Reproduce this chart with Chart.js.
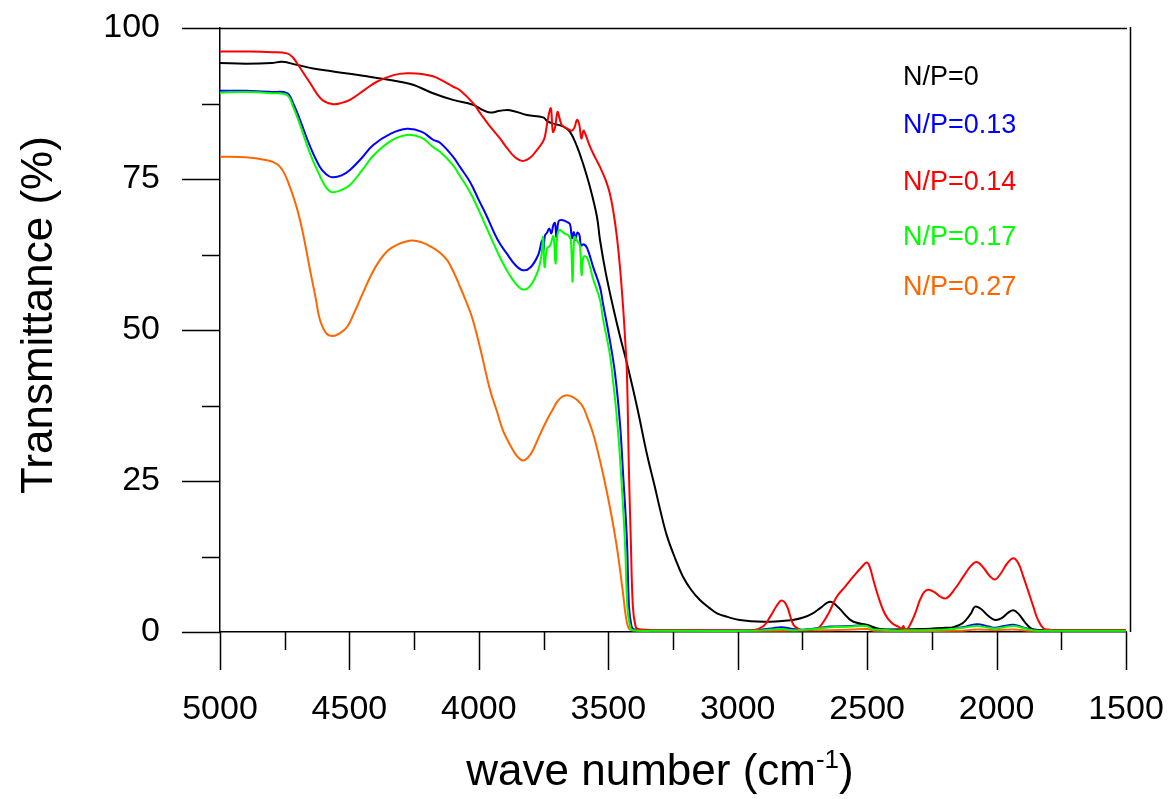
<!DOCTYPE html>
<html><head><meta charset="utf-8">
<script src="https://cdn.jsdelivr.net/npm/chart.js@4.4.1/dist/chart.umd.min.js"></script>
<style>html,body{margin:0;padding:0;background:#fff;}canvas{display:block;}</style>
</head><body>
<canvas id="c" width="1171" height="799"></canvas>
<script>
const seriesLabels = ['N/P=0', 'N/P=0.13', 'N/P=0.14', 'N/P=0.17', 'N/P=0.27'];
const seriesColors = ['#000000', '#0000ff', '#ff0000', '#00ff00', '#ff6600'];
const xTicks = [5000, 4500, 4000, 3500, 3000, 2500, 2000, 1500];
const yTicks = [0, 25, 50, 75, 100];

// N/P=0 (black)
const wnNP0 = [5000,4900,4800,4760,4703,4640,4563,4432,4305,4254,
  4177,4100,4023,3984,3957,3918,3880,3814,3752,3733,
  3706,3675,3648,3621,3598,3571,3544,3532,3510,3482,
  3455,3428,3389,3351,3320,3301,3274,3240,3212,3180,
  3146,3110,3080,3040,2992,2901,2840,2787,2747,2710,
  2680,2643,2610,2580,2553,2502,2450,2380,2296,2200,
  2167,2130,2100,2083,2060,2030,2006,1980,1955,1935,
  1915,1890,1864,1830,1800,1500];
const tNP0 = [94.2,94.1,94.2,94.4,93.9,93.3,92.8,92.0,91.1,90.6,
  89.2,88.1,87.3,86.4,86.0,86.3,86.4,85.6,85.2,84.5,
  84.1,83.7,82.8,80.4,77.6,73.7,68.8,64.9,59.5,53.9,
  49.0,44.5,37.3,29.5,24.0,20.5,16.0,12.0,9.2,7.0,
  5.3,4.0,3.1,2.5,2.0,1.7,1.8,2.0,2.4,3.1,
  4.0,5.0,4.0,2.6,1.7,1.2,0.5,0.4,0.5,0.7,
  0.8,1.5,3.0,4.2,3.8,2.6,2.0,2.3,3.2,3.6,
  3.0,1.6,0.5,0.3,0.3,0.3];

// N/P=0.13 (blue)
const wnNP013 = [5000,4900,4800,4741,4718,4691,4652,4614,4590,4567,
  4530,4498,4450,4409,4340,4278,4220,4177,4150,4100,
  4073,4034,4000,3969,3927,3891,3860,3830,3800,3770,
  3756,3750,3745,3737,3728,3720,3712,3706,3700,3692,
  3680,3660,3648,3640,3633,3627,3620,3612,3605,3595,
  3582,3559,3532,3521,3494,3474,3455,3443,3428,3420,
  3410,3400,3300,2950,2870,2830,2790,2740,2680,2640,
  2560,2502,2475,2400,2300,2200,2130,2077,2030,2006,
  1970,1935,1900,1860,1800,1500];
const tNP013 = [89.6,89.6,89.4,89.2,87.6,84.8,80.4,77.0,75.8,75.3,
  75.6,76.5,78.6,80.6,82.5,83.3,82.8,81.5,81.0,78.7,
  77.0,74.5,71.5,68.8,64.9,62.6,60.8,59.9,60.4,62.5,
  64.8,63.2,65.6,66.1,66.8,66.0,67.4,67.7,65.4,68.0,
  68.2,67.9,67.5,65.2,66.2,64.9,66.1,65.8,64.0,64.2,
  63.6,60.5,57.1,54.5,48.3,42.8,34.6,26.3,15.2,4.2,
  0.9,0.4,0.3,0.3,0.6,0.8,0.5,0.4,0.7,0.9,
  1.0,1.1,0.5,0.4,0.4,0.5,0.8,1.3,0.9,0.7,
  1.0,1.2,0.8,0.4,0.3,0.3];

// N/P=0.14 (red)
const wnNP014 = [5000,4900,4800,4741,4720,4703,4652,4610,4567,4530,
  4498,4440,4394,4330,4278,4220,4177,4150,4100,4073,
  4023,3990,3957,3920,3891,3860,3830,3800,3776,3755,
  3745,3733,3722,3714,3706,3696,3688,3679,3660,3641,
  3630,3621,3612,3604,3596,3590,3571,3550,3532,3510,
  3494,3480,3467,3455,3443,3435,3428,3420,3413,3405,
  3395,3386,3300,3000,2940,2900,2875,2850,2830,2810,
  2785,2760,2747,2700,2682,2650,2618,2585,2553,2520,
  2502,2490,2476,2458,2438,2420,2399,2380,2367,2360,
  2354,2345,2334,2315,2296,2280,2264,2240,2215,2193,
  2160,2128,2100,2077,2050,2025,2006,1985,1960,1935,
  1915,1897,1878,1858,1840,1819,1800,1780,1500];
const tNP014 = [96.1,96.1,96.0,95.8,95.2,94.2,90.9,88.3,87.4,87.6,
  88.1,89.8,91.1,92.2,92.5,92.4,92.0,91.5,90.3,89.7,
  87.6,85.6,83.7,81.8,80.1,78.6,78.0,78.6,79.8,81.0,
  82.0,85.0,86.7,82.8,83.5,86.1,85.0,83.9,83.4,83.0,
  83.6,84.8,84.0,81.7,83.0,82.6,80.4,78.5,77.0,74.8,
  72.6,69.5,65.5,60.5,53.9,48.5,42.8,26.3,15.2,4.2,
  1.0,0.5,0.3,0.3,0.3,1.0,2.5,4.3,5.2,4.3,
  1.2,0.4,0.3,0.5,0.9,3.0,5.8,7.5,9.2,10.8,
  11.5,10.8,8.6,6.0,3.6,2.2,1.3,0.9,0.6,1.0,
  0.4,0.5,1.2,3.0,5.3,6.6,7.0,6.6,5.8,5.6,
  7.2,9.2,10.9,11.6,10.6,9.2,8.7,9.6,11.3,12.2,
  11.3,9.2,6.8,4.2,2.0,0.6,0.4,0.3,0.3];

// N/P=0.17 (green)
const wnNP017 = [5000,4900,4800,4741,4718,4691,4652,4614,4590,4567,
  4530,4498,4450,4409,4340,4278,4220,4177,4150,4100,
  4073,4034,4000,3969,3927,3891,3860,3830,3800,3770,
  3758,3752,3746,3737,3725,3712,3704,3698,3690,3670,
  3655,3645,3638,3631,3621,3610,3603,3596,3582,3559,
  3532,3521,3494,3482,3468,3455,3436,3426,3415,3405,
  3300,2950,2870,2830,2790,2700,2640,2560,2502,2475,
  2300,2200,2130,2077,2030,2006,1970,1935,1900,1860,
  1800,1500];
const tNP017 = [89.3,89.4,89.2,88.9,87.0,84.0,79.2,75.5,73.6,72.8,
  73.2,74.0,76.5,78.8,81.3,82.3,81.8,80.3,79.5,77.3,
  75.5,72.8,69.8,66.8,62.8,59.8,57.8,56.7,57.4,60.0,
  62.5,65.4,60.4,63.5,64.0,65.5,61.0,65.0,66.6,66.0,
  65.7,65.0,58.0,65.4,64.8,64.0,59.1,62.1,62.0,58.5,
  55.0,52.0,46.0,41.7,36.0,29.0,15.2,4.0,0.8,0.3,
  0.2,0.2,0.4,0.5,0.3,0.5,0.8,0.9,1.0,0.4,
  0.3,0.4,0.7,1.0,0.7,0.6,0.8,1.0,0.7,0.3,
  0.2,0.2];

// N/P=0.27 (orange)
const wnNP027 = [5000,4900,4818,4790,4768,4750,4730,4710,4691,4670,
  4652,4630,4614,4590,4564,4540,4509,4480,4448,4415,
  4382,4350,4316,4262,4220,4177,4150,4123,4100,4073,
  4050,4027,3996,3957,3930,3907,3868,3850,3830,3810,
  3791,3765,3737,3715,3698,3680,3660,3637,3620,3598,
  3580,3559,3540,3521,3494,3467,3443,3432,3422,3410,
  3300,2900,2640,2560,2502,2470,2150,2077,2006,1935,
  1860,1500];
const tNP027 = [78.7,78.6,78.1,77.7,77.0,75.8,73.7,71.2,68.2,64.0,
  59.9,55.2,51.7,49.5,49.0,49.4,50.5,53.0,56.1,59.2,
  61.6,63.2,64.1,64.8,64.5,63.6,62.8,61.6,59.8,57.2,
  54.8,52.2,47.2,40.1,36.5,33.4,30.1,29.0,28.4,28.9,
  30.1,32.6,35.1,36.8,38.1,38.9,39.2,38.9,38.4,37.3,
  35.4,32.9,29.8,26.3,20.7,14.1,6.4,2.5,0.7,0.3,
  0.2,0.2,0.3,0.4,0.5,0.2,0.2,0.4,0.3,0.4,
  0.2,0.2];

const seriesWn = [wnNP0, wnNP013, wnNP014, wnNP017, wnNP027];
const seriesT = [tNP0, tNP013, tNP014, tNP017, tNP027];
const drawOrder = [2, 3, 1, 0, 4];

const FONT = "'Liberation Sans', Arial, sans-serif";

const datasets = seriesLabels.map((lab, i) => ({
  label: lab,
  data: seriesWn[i].map((w, k) => ({x: w, y: seriesT[i][k]})),
  borderColor: seriesColors[i],
  backgroundColor: seriesColors[i],
  borderWidth: 2,
  pointRadius: 0,
  fill: false,
  tension: 0.4,
  order: drawOrder[i]
}));

const decor = {
  id: 'decor',
  afterDraw(chart) {
    const {ctx, chartArea: a, scales: {x, y}} = chart;
    ctx.save();
    ctx.strokeStyle = '#000';
    ctx.lineWidth = 1.5;
    ctx.beginPath();
    for (let v = 0; v <= 100; v += 12.5) {
      const py = Math.round(y.getPixelForValue(v)) + 0.5;
      const len = (v % 25 === 0) ? 38 : 18;
      ctx.moveTo(a.left - len, py); ctx.lineTo(a.left, py);
    }
    for (let v = 1500; v <= 5000; v += 250) {
      const px = Math.round(x.getPixelForValue(v)) + 0.5;
      const len = (v % 500 === 0) ? 38 : 18;
      ctx.moveTo(px, a.bottom); ctx.lineTo(px, a.bottom + len);
    }
    // frame top and right
    ctx.moveTo(a.left, a.top + 0.5); ctx.lineTo(a.right + 1, a.top + 0.5);
    ctx.moveTo(a.right + 4.5, a.top - 1); ctx.lineTo(a.right + 4.5, a.bottom);
    ctx.stroke();

    // legend (colored text only)
    ctx.font = '27px ' + FONT;
    ctx.textAlign = 'left';
    ctx.textBaseline = 'middle';
    const legY = [78, 126, 183, 238, 288];
    chart.data.datasets.forEach((ds, i) => {
      ctx.fillStyle = ds.borderColor;
      ctx.fillText(ds.label, 903, legY[i]);
    });

    // y title
    ctx.fillStyle = '#000';
    ctx.save();
    ctx.translate(52, 315);
    ctx.rotate(-Math.PI / 2);
    ctx.font = '44px ' + FONT;
    ctx.textAlign = 'center';
    ctx.textBaseline = 'alphabetic';
    ctx.fillText('Transmittance (%)', 0, 0);
    ctx.restore();

    // x title with superscript
    const t1 = 'wave number (cm', sup = '-1', t2 = ')';
    ctx.textBaseline = 'alphabetic';
    ctx.textAlign = 'left';
    ctx.font = '44px ' + FONT;
    const w1 = ctx.measureText(t1).width, w3 = ctx.measureText(t2).width;
    ctx.font = '26px ' + FONT;
    const w2 = ctx.measureText(sup).width;
    const total = w1 + w2 + w3;
    let sx = 660 - total / 2;
    const base = 785;
    ctx.font = '44px ' + FONT;
    ctx.fillText(t1, sx, base);
    ctx.font = '26px ' + FONT;
    ctx.fillText(sup, sx + w1, base - 17);
    ctx.font = '44px ' + FONT;
    ctx.fillText(t2, sx + w1 + w2, base);
    ctx.restore();
  }
};

new Chart(document.getElementById('c'), {
  type: 'line',
  data: {datasets},
  options: {
    responsive: false,
    animation: false,
    events: [],
    layout: {padding: {top: 28, right: 45, left: 0, bottom: 0}},
    plugins: {legend: {display: false}, tooltip: {enabled: false}, title: {display: false}},
    scales: {
      x: {
        type: 'linear',
        reverse: true,
        min: 1500, max: 5000,
        afterBuildTicks: (s) => { s.ticks = xTicks.map(v => ({value: v})); },
        afterFit: (s) => { s.height = 167; s.paddingLeft = 0; s.paddingRight = 0; },
        ticks: {color: '#000', font: {size: 34, family: FONT}, padding: 57, maxRotation: 0, autoSkip: false,
                callback: (v) => String(v)},
        grid: {display: false, drawTicks: false, tickLength: 0},
        border: {display: true, color: '#000', width: 1.5}
      },
      y: {
        type: 'linear',
        min: 0, max: 100,
        afterBuildTicks: (s) => { s.ticks = yTicks.map(v => ({value: v})); },
        afterFit: (s) => { s.width = 220; s.paddingTop = 0; s.paddingBottom = 0; },
        ticks: {color: '#000', font: {size: 34, family: FONT}, padding: 60, callback: (v) => String(v)},
        grid: {display: false, drawTicks: false, tickLength: 0},
        border: {display: true, color: '#000', width: 1.5}
      }
    }
  },
  plugins: [decor]
});
</script>
</body></html>
